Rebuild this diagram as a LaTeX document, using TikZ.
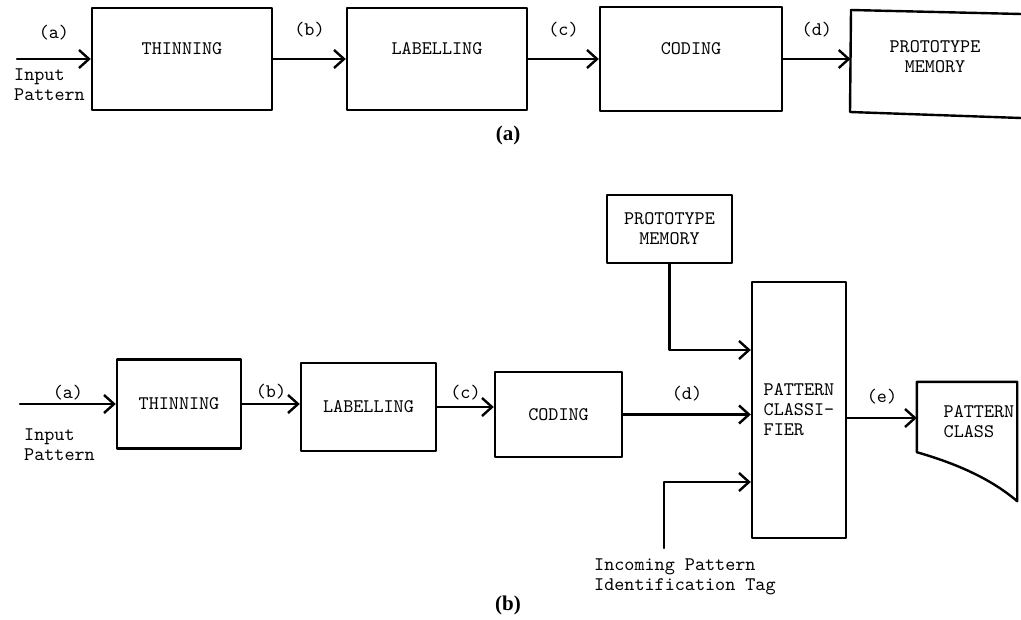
\documentclass[tikz,border=0pt]{standalone}
\usepackage{fontspec}
\newfontfamily\capfont{Liberation Serif}
\usetikzlibrary{arrows.meta}
\begin{document}
\begin{tikzpicture}[x=0.5pt, y=-0.5pt, line width=1.2pt, line join=round, line cap=round,
	font=\ttfamily\fontsize{9.6}{10}\selectfont, >={Straight Barb[length=5pt,width=9pt]},
	box/.style={draw, inner sep=2pt, align=center},
	boxtop/.style={box, text height=6pt, text depth=10pt},
	tag/.style={inner sep=1pt},
	caption/.style={font=\capfont\bfseries\fontsize{10.5}{12}\selectfont}]
	\useasboundingbox (0,0) rectangle (1021,620);
	% (a) training
	\node[boxtop, minimum width=90pt, minimum height=51pt] (thinA) at (182,59) {THINNING};
	\node[boxtop, minimum width=90pt, minimum height=51pt] (labA) at (437,59) {LABELLING};
	\node[boxtop, minimum width=91pt, minimum height=52pt] (codA) at (691,59) {CODING};
	\draw (1021,14) -- (851,10) -- (850,112) -- (1021,118);
	\coordinate (protoA) at (850.5,59);
	\node[align=center] (protoAtxt) at (935,57) {PROTOTYPE\\MEMORY};
	\coordinate (inA) at (17,59);
	\node[tag, align=left, anchor=west] (inAtxt) at (11,85) {Input\\Pattern};
	\draw[->] (inA) -- (thinA.west) node[tag, midway, above=8pt] {(a)};
	\draw[->] (thinA.east) -- (labA.west) node[tag, midway, above=9.5pt] {(b)};
	\draw[->] (labA.east) -- (codA.west) node[tag, midway, above=9.5pt] {(c)};
	\draw[->] (codA.east) -- (protoA) node[tag, midway, above=9.5pt] {(d)};
	\node[caption] (capA) at (508,135) {(a)};
	% (b) recognition
	\node[box, minimum width=62pt, minimum height=44.5pt] (thinB) at (179,404) {THINNING};
	\node[box, minimum width=67.5pt, minimum height=44pt] (labB) at (368.5,407) {LABELLING};
	\node[box, minimum width=63.5pt, minimum height=42.5pt] (codB) at (558.5,414.5) {CODING};
	\node[box, minimum width=62.5pt, minimum height=34pt] (protoB) at (669.5,229) {PROTOTYPE\\MEMORY};
	\node[box, align=left, minimum width=47pt, minimum height=128pt] (clsB) at (799,410) {PATTERN\\CLASSI-\\FIER};
	\node[minimum width=49pt, minimum height=58.5pt, inner sep=0pt] (classB) at (967,441.5) {};
	\draw (classB.north west) -- (classB.north east) -- (classB.south east)
		.. controls ([xshift=-13.5pt,yshift=11.5pt]classB.south east) and ([xshift=-31pt,yshift=19pt]classB.south east) .. ([yshift=24.5pt]classB.south west) -- cycle;
	\node[align=left] (classBtxt) at (979,422) {PATTERN\\CLASS};
	\coordinate (inB) at (20,404);
	\node[tag, align=left, anchor=west] (inBtxt) at (21,445) {Input\\Pattern};
	\draw[->] (inB) -- (thinB.west) node[tag, midway, above=0.5pt] {(a)};
	\draw[->] (thinB.east) -- (labB.west |- thinB.east) node[tag, midway, above=1pt] {(b)};
	\draw[->] (labB.east) -- (codB.west |- labB.east) node[tag, midway, above=2pt] {(c)};
	\draw[->] (codB.east) -- (clsB.west |- codB.east) node[tag, midway, above=5pt] {(d)};
	\draw[->] (protoB.south) |- ([yshift=30pt]clsB.west);
	\coordinate (tagB) at (664,548);
	\draw[->] (tagB) |- ([yshift=-36pt]clsB.west);
	\node[tag, align=left, anchor=west] (tagBtxt) at (591,577) {Incoming Pattern\\Identification Tag};
	\coordinate (eOut) at ([yshift=-4pt]clsB.east);
	\draw[->] (eOut) -- (eOut -| classB.west) node[tag, midway, above=5.5pt] {(e)};
	\node[caption] (capB) at (508,605) {(b)};
\end{tikzpicture}
\end{document}
